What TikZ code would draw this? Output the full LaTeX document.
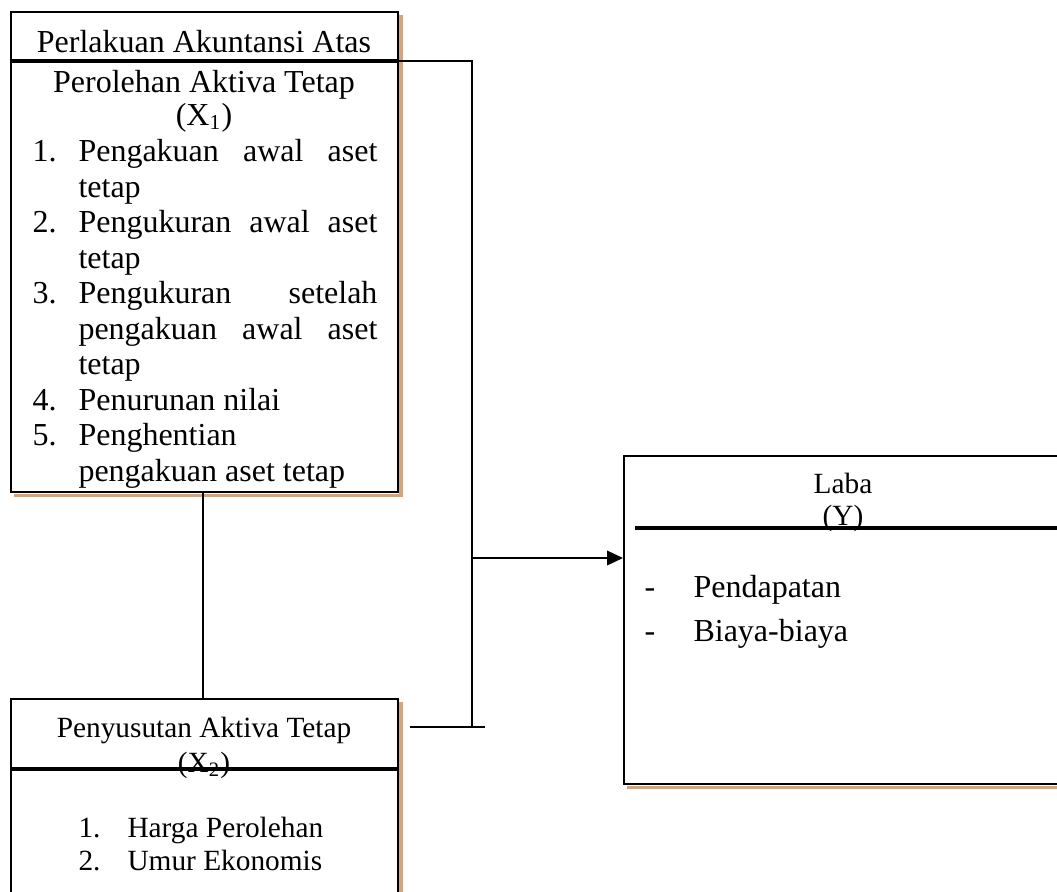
\documentclass[tikz,border=0pt]{standalone}
\usepackage{fontspec}
\setmainfont{Liberation Serif}
\usetikzlibrary{arrows.meta,fit}
\definecolor{shadowtan}{RGB}{210,164,128}
\begin{document}
\begin{tikzpicture}[x=0.375pt,y=-0.375pt,
  boxframe/.style={draw=black,line width=0.75pt,inner sep=0pt},
  shade/.style={draw=shadowtan,line width=1.2pt},
  sepline/.style={line width=1.4pt},
  conn/.style={line width=0.55pt},
  txt/.style={inner sep=0pt,font=\fontsize{12}{14}\selectfont},
  stxt/.style={inner sep=0pt,font=\fontsize{11}{13}\selectfont}]
\clip (0,0) rectangle (1057,891);
% shadows
\draw[shade] (14,495.5) -- (401,495.5) -- (401,15);
\draw[shade] (401,702) -- (401,895);
\draw[shade] (627,787.5) -- (1065,787.5);
% boxes
\node[boxframe, fit={(11,12) (398,492)}] (x1) {};
\node[boxframe, fit={(11,699) (398,910)}] (x2) {};
\node[boxframe, fit={(624,456) (1070,784)}] (y) {};
% X1 texts
\node[txt,anchor=base] (h1) at (204,52) {Perlakuan Akuntansi Atas};
\node[txt,anchor=base] (h2) at (204,92) {Perolehan Aktiva Tetap};
\node[txt,anchor=base] (h3) at (204,125) {(X\textsubscript{1})};
\foreach \n/\yy/\t in {n1/161.7/1., n2/232.7/2., n3/303.7/3., n4/410.2/4., n5/445.7/5.}
  \node[txt,anchor=base west] (\n) at (32,\yy) {\t};
\foreach \n/\yy/\t in {
  l1/161.7/\makebox[112.1pt][s]{Pengakuan awal aset},
  l2/197.2/tetap,
  l3/232.7/\makebox[112.1pt][s]{Pengukuran awal aset},
  l4/268.2/tetap,
  l5/303.7/\makebox[112.1pt][s]{Pengukuran setelah},
  l6/339.2/\makebox[112.1pt][s]{pengakuan awal aset},
  l7/374.7/tetap,
  l8/410.2/Penurunan nilai,
  l9/445.7/Penghentian,
  l10/481.2/pengakuan aset tetap}
  \node[txt,anchor=base west] (\n) at (78,\yy) {\t};
% X2 texts
\node[stxt,anchor=base] (p1) at (204,737) {Penyusutan Aktiva Tetap};
\node[stxt,anchor=base] (p2) at (204,772) {(X\textsubscript{2})};
\node[stxt,anchor=base west] (m1) at (78,837) {1.};
\node[stxt,anchor=base west] (t1) at (127,837) {Harga Perolehan};
\node[stxt,anchor=base west] (m2) at (78,870) {2.};
\node[stxt,anchor=base west] (t2) at (127,870) {Umur Ekonomis};
% Y texts
\node[stxt,anchor=base] (y1) at (843,493) {Laba};
\node[stxt,anchor=base] (y2) at (843,525) {(Y)};
\node[txt,anchor=base] (d1) at (650,597) {-};
\node[txt,anchor=base west] (r1) at (693,597) {Pendapatan};
\node[txt,anchor=base] (d2) at (650,641) {-};
\node[txt,anchor=base west] (r2) at (693,641) {Biaya-biaya};
% separator lines
\coordinate (s1) at (11,61);
\draw[sepline] (x1.west |- s1) -- (x1.east |- s1);
\coordinate (s2) at (11,769);
\draw[sepline] (x2.west |- s2) -- (x2.east |- s2);
\coordinate (s3a) at (635,528);
\coordinate (s3b) at (1070,528);
\draw[sepline] (s3a) -- (s3b);
% connectors
\coordinate (corner) at (472,61);
\coordinate (join) at (472,727);
\draw[conn] (x1.east |- s1) -- (corner) -- (join);
\coordinate (tl) at (410,727);
\coordinate (tr) at (485,727);
\draw[conn] (tl) -- (tr);
\coordinate (astart) at (472,558);
\draw[conn,-{Triangle[length=6pt,width=5.5pt]}] (astart) -- (y.west |- astart);
\draw[conn] (x1.south -| 203,0) -- (x2.north -| 203,0);
\end{tikzpicture}
\end{document}
